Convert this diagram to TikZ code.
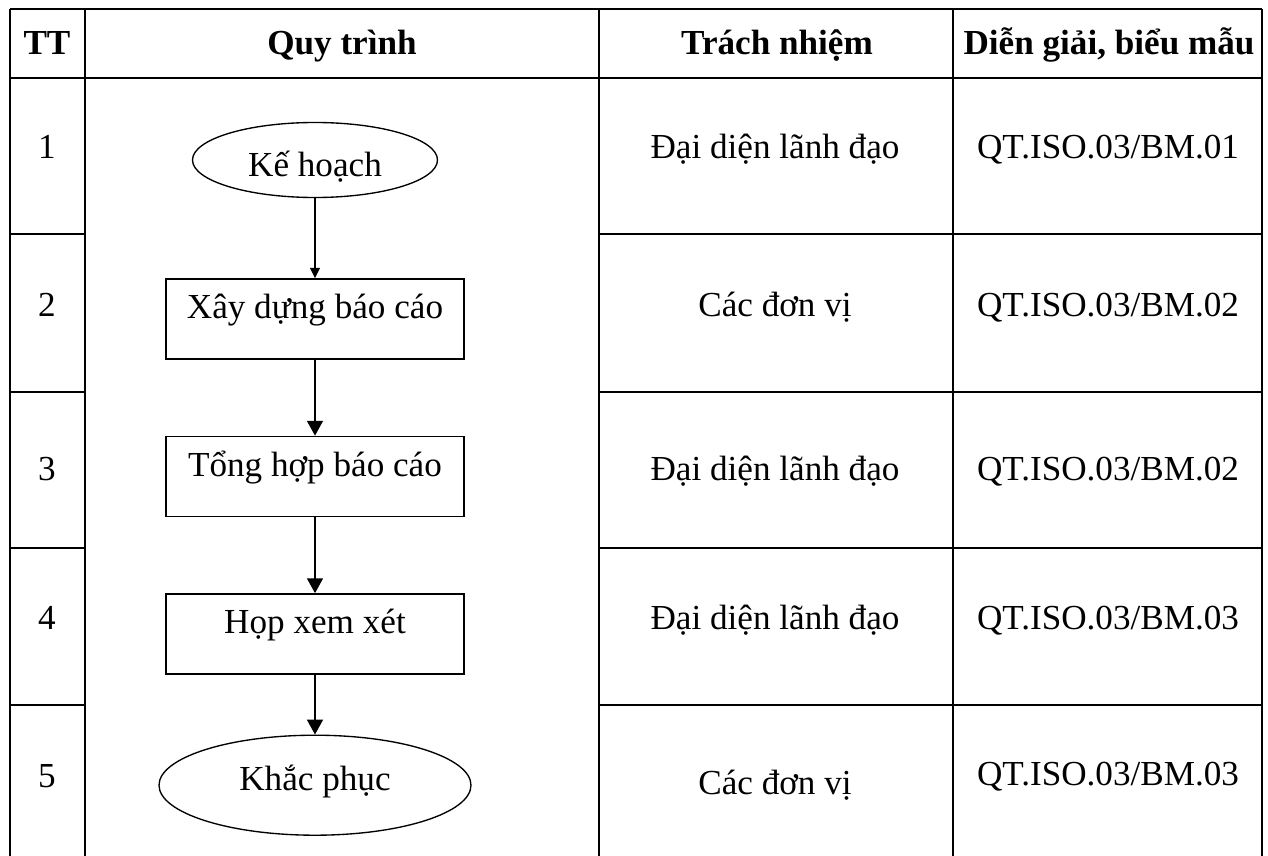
\documentclass[tikz,border=0pt]{standalone}
\usepackage{fontspec}
\setmainfont{Liberation Serif}
\usetikzlibrary{arrows.meta, shapes.geometric, positioning}

\begin{document}
\begin{tikzpicture}[x=0.013cm, y=-0.013cm, font=\fontsize{13}{15}\selectfont,
    hline/.style={line width=0.7pt},
    vline/.style={line width=0.45pt},
    cell/.style={anchor=base, inner sep=0pt},
    head/.style={cell, font=\fontsize{13}{15}\selectfont\bfseries},
    proc/.style={draw, rectangle, line width=0.5pt, minimum width=3.874cm, minimum height=1.04cm,
      inner sep=0pt, text height=1ex, text depth=1ex},
    term/.style={draw, ellipse, line width=0.5pt, inner sep=0pt},
    flow/.style={line width=0.55pt, -{Triangle[width=5.9pt, length=5.5pt]}},
    thin flow/.style={line width=0.55pt, -{Triangle[width=3.6pt, length=3.8pt]}}]
  \useasboundingbox (0,0) rectangle (1268,856);

  % table
  \draw[hline] (10,9) -- (1262,9) (10,78) -- (1262,78);
  \foreach \y in {234,392,548,705}
    \draw[hline] (10,\y) -- (85,\y) (599,\y) -- (1262,\y);
  \foreach \x in {10,85,599,953,1262}
    \draw[vline] (\x,9) -- (\x,856);

  \node[head] (h-tt) at (47,55) {TT};
  \node[head] (h-qt) at (342,55) {Quy trình};
  \node[head] (h-tn) at (777,55) {Trách nhiệm};
  \node[head] (h-dg) at (1109,55) {Diễn giải, biểu mẫu};

  % flow
  \node[term, minimum width=3.185cm, minimum height=0.975cm, text height=12pt, text depth=0pt] (kh) at (315,160) {Kế hoạch};
  \node[proc] (xd) [below=1.04cm of kh] {Xây dựng báo cáo};
  \node[proc] (th) [below=0.99cm of xd] {Tổng hợp báo cáo};
  \node[proc] (hop) [below=0.99cm of th] {Họp xem xét};
  \node[term, minimum width=4.056cm, minimum height=1.3cm, text height=5pt, text depth=1.3pt] (kp) [below=0.78cm of hop] {Khắc phục};

  \path (kh) edge[thin flow] (xd)
    (xd) edge[flow] (th)
    (th) edge[flow] (hop)
    (hop) edge[flow] (kp);

  % rows
  \node[cell] (n1) at (47,159) {1};
  \node[cell] (r1) at (775,159) {Đại diện lãnh đạo};
  \node[cell] (f1) at (1108,159) {QT.ISO.03/BM.01};

  \node[cell] (n2) at (47,316) {2};
  \node[cell] (r2) at (775,316) {Các đơn vị};
  \node[cell] (f2) at (1108,316) {QT.ISO.03/BM.02};

  \node[cell] (n3) at (47,481) {3};
  \node[cell] (r3) at (775,481) {Đại diện lãnh đạo};
  \node[cell] (f3) at (1108,481) {QT.ISO.03/BM.02};

  \node[cell] (n4) at (47,629) {4};
  \node[cell] (r4) at (775,629) {Đại diện lãnh đạo};
  \node[cell] (f4) at (1108,629) {QT.ISO.03/BM.03};

  \node[cell] (n5) at (47,787) {5};
  \node[cell] (r5) at (775,795) {Các đơn vị};
  \node[cell] (f5) at (1108,785) {QT.ISO.03/BM.03};
\end{tikzpicture}
\end{document}
